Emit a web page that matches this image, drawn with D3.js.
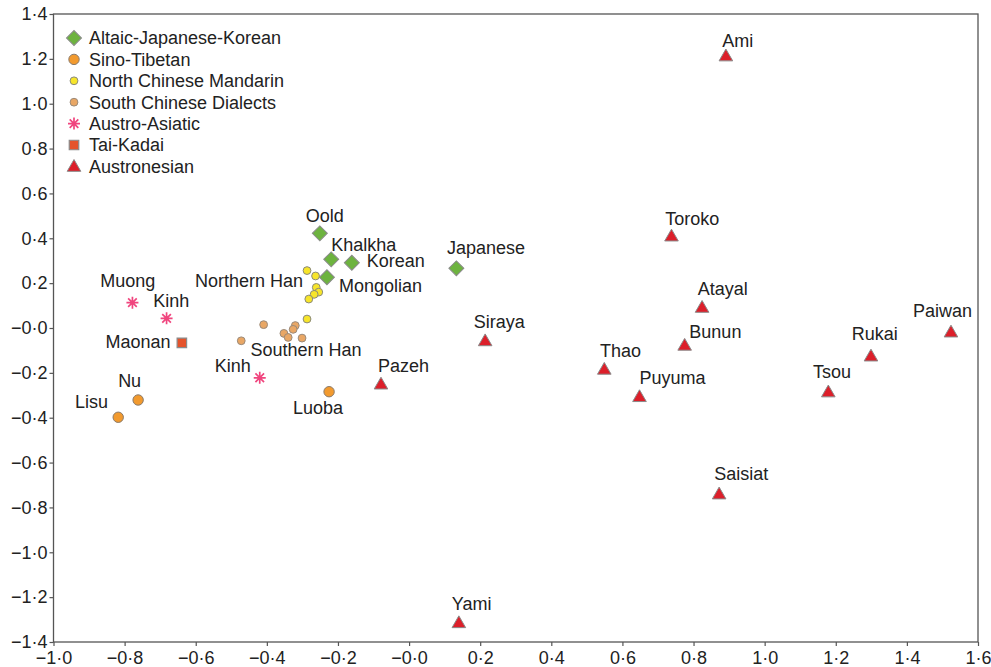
<!DOCTYPE html>
<html>
<head>
<meta charset="utf-8">
<title>Language groups</title>
<style>
  body { margin: 0; background: #fff; }
  svg text { font-family: "Liberation Sans", Arial, Helvetica, sans-serif; fill: #222; }
</style>
</head>
<body>
<svg width="991" height="667"></svg>
<script src="https://cdn.jsdelivr.net/npm/d3@7"></script>
<script>
// ---- data: [label, x, y] per group ("" = unlabelled point)
var groupNames = ["Altaic-Japanese-Korean", "Sino-Tibetan", "North Chinese Mandarin",
                  "South Chinese Dialects", "Austro-Asiatic", "Tai-Kadai", "Austronesian"];
var altaic = [["Oold", -0.251, 0.422], ["Khalkha", -0.219, 0.306], ["Korean", -0.161, 0.291],
              ["Mongolian", -0.231, 0.226], ["Japanese", 0.133, 0.266]];
var sinoTibetan = [["Nu", -0.762, -0.321], ["Lisu", -0.818, -0.398], ["Luoba", -0.225, -0.284]];
var northMandarin = [["Northern Han", -0.287, 0.256], ["", -0.263, 0.232], ["", -0.261, 0.181],
                     ["", -0.254, 0.160], ["", -0.267, 0.150], ["", -0.282, 0.129], ["", -0.287, 0.040]];
var southDialects = [["", -0.409, 0.015], ["", -0.320, 0.011], ["", -0.326, -0.006], ["", -0.352, -0.024],
                     ["", -0.340, -0.042], ["", -0.301, -0.045], ["Southern Han", -0.472, -0.057]];
var austroAsiatic = [["Muong", -0.778, 0.113], ["Kinh", -0.682, 0.043], ["Kinh", -0.420, -0.222]];
var taiKadai = [["Maonan", -0.639, -0.066]];
var austronesian = [["Ami", 0.891, 1.213], ["Toroko", 0.738, 0.410], ["Atayal", 0.824, 0.092],
                    ["Siraya", 0.214, -0.057], ["Bunun", 0.775, -0.077], ["Paiwan", 1.524, -0.018],
                    ["Rukai", 1.299, -0.125], ["Thao", 0.549, -0.184], ["Tsou", 1.179, -0.285],
                    ["Pazeh", -0.079, -0.250], ["Puyuma", 0.648, -0.306], ["Saisiat", 0.872, -0.740],
                    ["Yami", 0.140, -1.314]];
var xTicks = [-1.0, -0.8, -0.6, -0.4, -0.2, 0.0, 0.2, 0.4, 0.6, 0.8, 1.0, 1.2, 1.4, 1.6];
var yTicks = [-1.4, -1.2, -1.0, -0.8, -0.6, -0.4, -0.2, 0.0, 0.2, 0.4, 0.6, 0.8, 1.0, 1.2, 1.4];

var groupData = [altaic, sinoTibetan, northMandarin, southDialects, austroAsiatic, taiKadai, austronesian];

// label placement: "group-index" -> [dx, dy, anchor]
var labelPos = {
  "0-0": [-14, -11.6, "start"], "0-1": [0, -8.6, "start"], "0-2": [15, 4.6, "start"],
  "0-3": [12, 14.4, "start"], "0-4": [-9.4, -14.3, "start"],
  "1-0": [-20, -13.3, "start"], "1-1": [-10.3, -9, "end"], "1-2": [-11, 22.3, "middle"],
  "2-0": [-4, 16, "end"],
  "3-6": [9.2, 15.3, "start"],
  "4-0": [-4.7, -15.4, "middle"], "4-1": [-13.4, -11, "start"], "4-2": [-9, -6, "end"],
  "5-0": [-11.3, 5.6, "end"],
  "6-0": [-3.7, -9.3, "start"], "6-1": [-6.3, -11, "start"], "6-2": [-4.4, -12.3, "start"],
  "6-3": [-11.4, -12.4, "start"], "6-4": [4.7, -7.3, "start"], "6-5": [-38, -15.3, "start"],
  "6-6": [-19.3, -16, "start"], "6-7": [-4.3, -12.6, "start"], "6-8": [-15.3, -13.7, "start"],
  "6-9": [-3, -12.3, "start"], "6-10": [0, -12.7, "start"], "6-11": [-5, -14, "start"],
  "6-12": [-7, -12.7, "start"]
};

var svg = d3.select("svg"),
    margin = {left: 53.5, right: 13, top: 14, bottom: 25},
    width = 991, height = 667;

var x = d3.scaleLinear().domain([-1.0, 1.6]).range([margin.left, width - margin.right]);
var y = d3.scaleLinear().domain([-1.4, 1.4]).range([height - margin.bottom, margin.top]);

function fmt(v) {
  var s = Math.abs(v).toFixed(1).replace(".", "\u00b7");
  return (v <= 0 ? "\u2212" : "") + s;
}

// frame
svg.append("rect")
    .attr("x", x(-1.0)).attr("y", y(1.4))
    .attr("width", x(1.6) - x(-1.0)).attr("height", y(-1.4) - y(1.4))
    .attr("fill", "none").attr("stroke", "#555").attr("stroke-width", 1.3);

var gx = svg.append("g")
    .attr("transform", "translate(0," + y(-1.4) + ")")
    .call(d3.axisBottom(x).tickValues(xTicks).tickFormat(fmt).tickSize(4).tickPadding(5));
var gy = svg.append("g")
    .attr("transform", "translate(" + x(-1.0) + ",0)")
    .call(d3.axisLeft(y).tickValues(yTicks).tickFormat(fmt).tickSize(4).tickPadding(2));
[gx, gy].forEach(function(g) {
  g.select(".domain").remove();
  g.selectAll("line").attr("stroke", "#555").attr("stroke-width", 1.2);
  g.selectAll("text").attr("font-size", 18).attr("fill", "#222")
    .style("font-family", "'Liberation Sans', Arial, sans-serif");
});

// marker styles per group
var styles = [
  {shape: "diamond", fill: "#6db33f", stroke: "#8a8a8a"},
  {shape: "circle", r: 5.2, fill: "#f29a2e", stroke: "#8a7a6a"},
  {shape: "circle", r: 3.9, fill: "#f7e52a", stroke: "#8a8a7a"},
  {shape: "circle", r: 3.9, fill: "#e9a765", stroke: "#9a8a7a"},
  {shape: "asterisk", fill: "none", stroke: "#f0457e"},
  {shape: "square", fill: "#e5532b", stroke: "#8a8a8a"},
  {shape: "triangle", fill: "#dc1f2a", stroke: "#8a8a8a"}
];

function drawMarker(sel, st, cx, cy) {
  if (st.shape === "circle") {
    sel.append("circle").attr("cx", cx).attr("cy", cy).attr("r", st.r)
      .attr("fill", st.fill).attr("stroke", st.stroke).attr("stroke-width", 1);
  } else if (st.shape === "diamond") {
    sel.append("path").attr("d", d3.symbol(d3.symbolSquare, 112)())
      .attr("transform", "translate(" + cx + "," + cy + ") rotate(45)")
      .attr("fill", st.fill).attr("stroke", st.stroke).attr("stroke-width", 1);
  } else if (st.shape === "square") {
    sel.append("path").attr("d", d3.symbol(d3.symbolSquare, 90)())
      .attr("transform", "translate(" + cx + "," + cy + ")")
      .attr("fill", st.fill).attr("stroke", st.stroke).attr("stroke-width", 1.2);
  } else if (st.shape === "triangle") {
    sel.append("path").attr("d", d3.symbol(d3.symbolTriangle, 80)())
      .attr("transform", "translate(" + cx + "," + (cy + 1) + ")")
      .attr("fill", st.fill).attr("stroke", st.stroke).attr("stroke-width", 1);
  } else if (st.shape === "asterisk") {
    var r = 6, d = r * 0.72;
    var p = "M" + (-r) + ",0L" + r + ",0M0," + (-r) + "L0," + r +
            "M" + (-d) + "," + (-d) + "L" + d + "," + d + "M" + (-d) + "," + d + "L" + d + "," + (-d);
    sel.append("path").attr("d", p)
      .attr("transform", "translate(" + cx + "," + cy + ")")
      .attr("fill", "none").attr("stroke", st.stroke).attr("stroke-width", 1.7);
  }
}

var marks = svg.append("g");
var labels = svg.append("g");
groupData.forEach(function(pts, gi) {
  pts.forEach(function(p, i) {
    var cx = x(p[1]), cy = y(p[2]);
    drawMarker(marks, styles[gi], cx, cy);
    var lp = labelPos[gi + "-" + i];
    if (p[0] && lp) {
      labels.append("text")
        .attr("x", cx + lp[0]).attr("y", cy + lp[1])
        .attr("text-anchor", lp[2])
        .attr("font-size", 18)
        .text(p[0]);
    }
  });
});

// legend
var legend = svg.append("g").attr("transform", "translate(74,38)");
groupNames.forEach(function(name, i) {
  var row = legend.append("g").attr("transform", "translate(0," + (i * 21.4) + ")");
  drawMarker(row, styles[i], 0, 0);
  row.append("text").attr("x", 15).attr("y", 6.3).attr("font-size", 18).text(name);
});
</script>
</body>
</html>
